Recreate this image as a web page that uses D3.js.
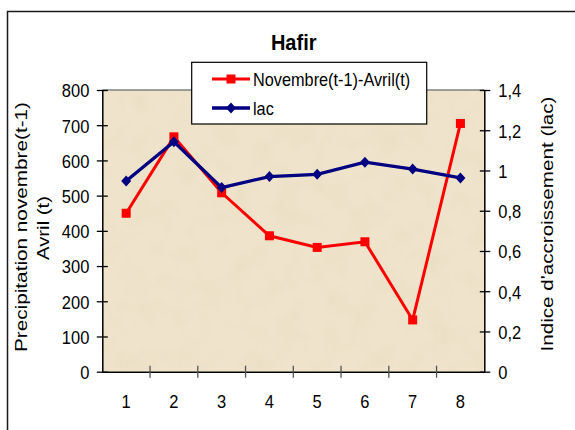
<!DOCTYPE html>
<html>
<head>
<meta charset="utf-8">
<script src="https://cdn.jsdelivr.net/npm/d3@7"></script>
<style>
  html, body { margin: 0; padding: 0; background: #fff; }
  svg { display: block; }
  text { font-family: "Liberation Sans", Arial, sans-serif; fill: #000; }
</style>
</head>
<body>
<svg id="chart" width="575" height="430"></svg>
<script>
// ---- data ----
const categories = [1, 2, 3, 4, 5, 6, 7, 8];
const precipitation = [450, 667, 508, 386, 353, 369, 147, 705];
const lacIndex = [0.948, 1.143, 0.915, 0.970, 0.981, 1.041, 1.007, 0.963];
const leftTicks = [0, 100, 200, 300, 400, 500, 600, 700, 800];
const rightTicks = [0, 0.2, 0.4, 0.6, 0.8, 1.0, 1.2, 1.4];
const seriesNames = ["Novembre(t-1)-Avril(t)", "lac"];
const titleText = "Hafir";
const leftTitle = ["Precipitation novembre(t-1)", "Avril (t)"];
const rightTitle = "Indice d'accroissement (lac)";

// ---- layout ----
const svg = d3.select("#chart");
const plot = { left: 102.3, right: 484.3, top: 90, bottom: 371.7 };
const SY = 1.15; // vertical stretch of horizontal text

const x = d3.scaleBand().domain(categories).range([plot.left, plot.right]).padding(0);
const yL = d3.scaleLinear().domain([0, 800]).range([plot.bottom, plot.top]);
const yR = d3.scaleLinear().domain([0, 1.4]).range([plot.bottom, plot.top]);
const cx = d => x(d) + x.bandwidth() / 2;

const defs = svg.append("defs");
const f = defs.append("filter").attr("id", "paper")
  .attr("x", 0).attr("y", 0).attr("width", "100%").attr("height", "100%");
f.append("feTurbulence").attr("type", "fractalNoise").attr("baseFrequency", "0.04")
  .attr("numOctaves", 4).attr("seed", 7).attr("result", "n");
f.append("feColorMatrix").attr("type", "matrix")
  .attr("values", "0 0 0 0 0.72  0 0 0 0 0.62  0 0 0 0 0.45  0.45 0 0 0 -0.19");

// outer border (extends past the right/bottom edges)
svg.append("rect").attr("x", 7.5).attr("y", 11.5).attr("width", 640).attr("height", 500)
  .attr("fill", "#fff").attr("stroke", "#1a1a1a").attr("stroke-width", 1.5);

// plot background
svg.append("rect").attr("x", plot.left).attr("y", plot.top)
  .attr("width", plot.right - plot.left).attr("height", plot.bottom - plot.top)
  .attr("fill", "#efe4cb");
svg.append("rect").attr("x", plot.left).attr("y", plot.top)
  .attr("width", plot.right - plot.left).attr("height", plot.bottom - plot.top)
  .attr("filter", "url(#paper)").attr("fill", "#000");

// top border of plot area
svg.append("line").attr("x1", plot.left).attr("x2", plot.right)
  .attr("y1", plot.top).attr("y2", plot.top).attr("stroke", "#808080").attr("stroke-width", 1.5);

// left axis
const gL = svg.append("g").attr("transform", `translate(${plot.left},0)`)
  .call(d3.axisLeft(yL).tickValues(leftTicks).tickSize(0).tickPadding(13).tickFormat(d3.format("d")));
gL.select(".domain").attr("stroke", "#000").attr("stroke-width", 1.5);
gL.selectAll(".tick").append("line").attr("x1", -5.5).attr("x2", 5.5).attr("stroke", "#000").attr("stroke-width", 1.3);
gL.selectAll(".tick text").attr("font-size", 16.5).attr("font-family", "Liberation Sans, Arial, sans-serif")
  .attr("dy", "0.36em").attr("fill", "#000").attr("transform", `scale(1,${SY})`);

// right axis
const fmtR = d => d3.format(".1f")(d).replace(/\.0$/, "").replace(".", ",");
const gR = svg.append("g").attr("transform", `translate(${plot.right},0)`)
  .call(d3.axisRight(yR).tickValues(rightTicks).tickSize(0).tickPadding(14).tickFormat(fmtR));
gR.select(".domain").attr("stroke", "#000").attr("stroke-width", 1.5);
gR.selectAll(".tick").append("line").attr("x1", -4.5).attr("x2", 6).attr("stroke", "#000").attr("stroke-width", 1.3);
gR.selectAll(".tick text").attr("font-size", 16.5).attr("font-family", "Liberation Sans, Arial, sans-serif")
  .attr("dy", "0.36em").attr("fill", "#000").attr("transform", `scale(1,${SY})`);

// x axis
const gX = svg.append("g").attr("transform", `translate(0,${plot.bottom})`)
  .call(d3.axisBottom(x).tickSize(0).tickPadding(0));
gX.select(".domain").attr("stroke", "#000").attr("stroke-width", 1.5);
gX.selectAll(".tick text").attr("font-size", 16.5).attr("font-family", "Liberation Sans, Arial, sans-serif")
  .attr("dy", 0).attr("y", 0).attr("fill", "#000")
  .attr("transform", `translate(0,36.3) scale(1,${SY})`);
// category boundary ticks
const bounds = categories.slice(1).map(c => x(c));
gX.selectAll(".btick").data(bounds).enter().append("line").attr("class", "btick")
  .attr("x1", d => d).attr("x2", d => d).attr("y1", -6).attr("y2", 6)
  .attr("stroke", "#555").attr("stroke-width", 1.3);

// ---- series ----
const redLine = d3.line().x((d, i) => cx(categories[i])).y(d => yL(d));
const blueLine = d3.line().x((d, i) => cx(categories[i])).y(d => yR(d));

svg.append("path").datum(precipitation).attr("d", redLine)
  .attr("fill", "none").attr("stroke", "#ff0000").attr("stroke-width", 3).attr("stroke-linejoin", "miter");
svg.selectAll(".sq").data(precipitation).enter().append("rect").attr("class", "sq")
  .attr("x", (d, i) => cx(categories[i]) - 4.5).attr("y", d => yL(d) - 4.5)
  .attr("width", 9).attr("height", 9).attr("fill", "#ff0000");

svg.append("path").datum(lacIndex).attr("d", blueLine)
  .attr("fill", "none").attr("stroke", "#000080").attr("stroke-width", 3.3).attr("stroke-linejoin", "miter");
const diamond = (cxv, cyv) => `M${cxv},${cyv - 5.5}L${cxv + 5},${cyv}L${cxv},${cyv + 5.5}L${cxv - 5},${cyv}Z`;
svg.selectAll(".dm").data(lacIndex).enter().append("path").attr("class", "dm")
  .attr("d", (d, i) => diamond(cx(categories[i]), yR(d))).attr("fill", "#000080");

// ---- title ----
svg.append("text").attr("transform", `translate(293.7,50) scale(1,1.1)`)
  .attr("text-anchor", "middle").attr("font-size", 20).attr("font-weight", "bold").text(titleText);

// ---- legend ----
const lg = svg.append("g");
lg.append("rect").attr("x", 191.7).attr("y", 62.3).attr("width", 235).attr("height", 61.7)
  .attr("fill", "#fff").attr("stroke", "#000").attr("stroke-width", 1.2);
const legendRows = [
  { name: seriesNames[0], color: "#ff0000", y: 79, shape: "sq", w: 3 },
  { name: seriesNames[1], color: "#000080", y: 108, shape: "dm", w: 3.3 }
];
legendRows.forEach(r => {
  lg.append("line").attr("x1", 212).attr("x2", 250).attr("y1", r.y).attr("y2", r.y)
    .attr("stroke", r.color).attr("stroke-width", r.w);
  if (r.shape === "sq") {
    lg.append("rect").attr("x", 231 - 4.5).attr("y", r.y - 4.5).attr("width", 9).attr("height", 9).attr("fill", r.color);
  } else {
    lg.append("path").attr("d", diamond(231, r.y)).attr("fill", r.color);
  }
  lg.append("text").attr("transform", `translate(253,${r.y + 6.5}) scale(1,${SY})`)
    .attr("font-size", 16.3).text(r.name);
});

// ---- axis titles ----
svg.append("text").attr("transform", "translate(26.5,227) rotate(-90)")
  .attr("text-anchor", "middle").attr("font-size", 16.5)
  .attr("textLength", 250).attr("lengthAdjust", "spacingAndGlyphs").text(leftTitle[0]);
svg.append("text").attr("transform", "translate(48.5,228) rotate(-90)")
  .attr("text-anchor", "middle").attr("font-size", 16.5)
  .attr("textLength", 64).attr("lengthAdjust", "spacingAndGlyphs").text(leftTitle[1]);
svg.append("text").attr("transform", "translate(553,224) rotate(-90)")
  .attr("text-anchor", "middle").attr("font-size", 16.5)
  .attr("textLength", 255).attr("lengthAdjust", "spacingAndGlyphs").text(rightTitle);
</script>
</body>
</html>
